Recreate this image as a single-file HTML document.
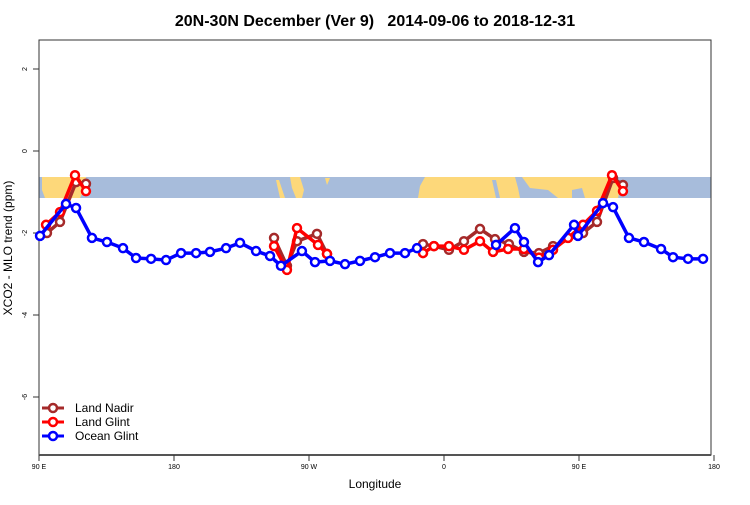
<!DOCTYPE html>
<html><head><meta charset="utf-8"><style>
body{margin:0;background:#fff;}
svg text{font-family:"Liberation Sans",sans-serif;}
</style></head><body>
<svg id="chart" width="750" height="500" xmlns="http://www.w3.org/2000/svg">
<text x="375" y="26" text-anchor="middle" font-size="16" font-weight="bold" style="white-space:pre">20N-30N December (Ver 9)   2014-09-06 to 2018-12-31</text>
<g>
<rect x="39" y="177" width="672" height="21" fill="#a7bcdb"/>
<polygon points="42,177 86,177 84,190 80,198 45,198 42,190" fill="#fdd87a"/>
<polygon points="276,180 279,180 283,192 285,198 280,198" fill="#fdd87a"/>
<polygon points="290,177 300,177 304,190 302,198 296,198 292,188" fill="#fdd87a"/>
<polygon points="325,178 330,178 327,185" fill="#fdd87a"/>
<polygon points="425,177 612,177 620,190 618,198 418,198 420,186" fill="#fdd87a"/>
<polygon points="492,180 496,180 500,198 496,198" fill="#a7bcdb"/>
<polygon points="515,177 522,177 530,188 548,190 558,198 520,198 518,188" fill="#a7bcdb"/>
<polygon points="572,190 582,188 585,198 572,198" fill="#a7bcdb"/>
</g>
<rect x="39" y="40" width="672" height="415" fill="none" stroke="#333" stroke-width="1"/>
<line x1="39" y1="455" x2="711" y2="455" stroke="#555" stroke-width="2"/>
<g id="axes"></g>
<g id="series"></g>
<text x="375" y="488" text-anchor="middle" font-size="12">Longitude</text>
<text transform="translate(12,248) rotate(-90)" text-anchor="middle" font-size="12">XCO2 - MLO trend (ppm)</text>
<g>
<g><line x1="42" y1="408" x2="64" y2="408" stroke="#a52a2a" stroke-width="3"/><circle cx="53" cy="408" r="4" fill="#fff" stroke="#a52a2a" stroke-width="2.5"/><text x="75" y="412" font-size="12">Land Nadir</text></g>
<g><line x1="42" y1="422" x2="64" y2="422" stroke="#ff0000" stroke-width="3"/><circle cx="53" cy="422" r="4" fill="#fff" stroke="#ff0000" stroke-width="2.5"/><text x="75" y="426" font-size="12">Land Glint</text></g>
<g><line x1="42" y1="436" x2="64" y2="436" stroke="#0000ff" stroke-width="3"/><circle cx="53" cy="436" r="4" fill="#fff" stroke="#0000ff" stroke-width="2.5"/><text x="75" y="440" font-size="12">Ocean Glint</text></g>
</g>
</svg>
<script>
const nadirLon=[95.3,104,114.7,121.3,246.7,255.3,262,275.3,282,346,353.3,363.3,373.3,384,394,403.3,413.3,423.3,432.7,452.7,462,472.7,479.3];
const nadirVal=[-2.0,-1.73,-0.76,-0.8,-2.12,-2.8,-2.2,-2.02,-2.51,-2.27,-2.32,-2.41,-2.2,-1.9,-2.15,-2.27,-2.46,-2.49,-2.32,-2.0,-1.73,-0.66,-0.83];
const glintLon=[94.7,104,114,121.3,246.7,255.3,262,276,282,346,353.3,363.3,373.3,384,392.7,402.7,413.3,423.3,432.7,442.7,452.7,462,472,479.3];
const glintVal=[-1.8,-1.49,-0.59,-0.98,-2.32,-2.9,-1.88,-2.29,-2.51,-2.49,-2.32,-2.32,-2.41,-2.2,-2.46,-2.39,-2.39,-2.6,-2.41,-2.12,-1.8,-1.46,-0.59,-0.98];
const oceanLon=[90.7,108,114.7,125.3,135.3,146,154.7,164.7,174.7,184.7,194.7,204,214.7,224,234.7,244,251.3,265.3,274,284,294,304,314,324,334,342,394.7,407.3,413.3,422.7,430,446.7,449.3,466,472.7,483.3,493.3,504.7,512.7,522.7,532.7];
const oceanVal=[-2.07,-1.29,-1.39,-2.12,-2.22,-2.37,-2.61,-2.63,-2.66,-2.49,-2.49,-2.46,-2.37,-2.24,-2.44,-2.56,-2.8,-2.44,-2.71,-2.68,-2.76,-2.68,-2.59,-2.49,-2.49,-2.37,-2.29,-1.88,-2.22,-2.71,-2.54,-1.8,-2.07,-1.27,-1.37,-2.12,-2.22,-2.39,-2.59,-2.63,-2.63];
const xTickVals=[90,180,270,360,450,540];
const xTickLabels=["90 E","180","90 W","0","90 E","180"];
const yTickVals=[2,0,-2,-4,-6];
const GAP=20;
const NS="http://www.w3.org/2000/svg";
function xs(v){return 39+(v-90)*1.5;}
function ys(v){return 151-v*41;}
const axes=document.getElementById('axes');
xTickVals.forEach((v,i)=>{
  const l=document.createElementNS(NS,'line');
  l.setAttribute('x1',xs(v));l.setAttribute('x2',xs(v));l.setAttribute('y1',455);l.setAttribute('y2',461);l.setAttribute('stroke','#333');
  
  
  axes.appendChild(l);
  const t=document.createElementNS(NS,'text');
  t.setAttribute('x',xs(v));t.setAttribute('y',469);t.setAttribute('font-size','7');t.setAttribute('text-anchor','middle');
  t.textContent=xTickLabels[i];
  
  
  axes.appendChild(t);
});
yTickVals.forEach(v=>{
  const l=document.createElementNS(NS,'line');
  l.setAttribute('x1',33);l.setAttribute('x2',39);l.setAttribute('y1',ys(v));l.setAttribute('y2',ys(v));l.setAttribute('stroke','#333');
  
  
  axes.appendChild(l);
  const t=document.createElementNS(NS,'text');
  t.setAttribute('transform','translate(27,'+ys(v)+') rotate(-90)');t.setAttribute('font-size','7');t.setAttribute('text-anchor','middle');
  t.textContent=v;
  
  
  axes.appendChild(t);
});
const series=document.getElementById('series');
function draw(lon,val,color,name){
  const g=document.createElementNS(NS,'g');
  
  
  const segs=[];let cur=[];
  lon.forEach((v,i)=>{
    if(i>0 && v-lon[i-1]>GAP){segs.push(cur);cur=[];}
    cur.push(xs(v)+','+ys(val[i]));
  });
  segs.push(cur);
  segs.forEach(s=>{
    const p=document.createElementNS(NS,'polyline');
    p.setAttribute('points',s.join(' '));
    p.setAttribute('fill','none');p.setAttribute('stroke',color);p.setAttribute('stroke-width','3.5');p.setAttribute('stroke-linejoin','round');
    
    
    g.appendChild(p);
  });
  lon.forEach((v,i)=>{
    const c=document.createElementNS(NS,'circle');
    c.setAttribute('cx',xs(v));c.setAttribute('cy',ys(val[i]));c.setAttribute('r','4');
    c.setAttribute('fill','#fff');c.setAttribute('stroke',color);c.setAttribute('stroke-width','2.5');
    
    
    g.appendChild(c);
  });
  series.appendChild(g);
}
draw(nadirLon,nadirVal,'#a52a2a','land-nadir-series');
draw(glintLon,glintVal,'#ff0000','land-glint-series');
draw(oceanLon,oceanVal,'#0000ff','ocean-glint-series');
</script>
</body></html>
